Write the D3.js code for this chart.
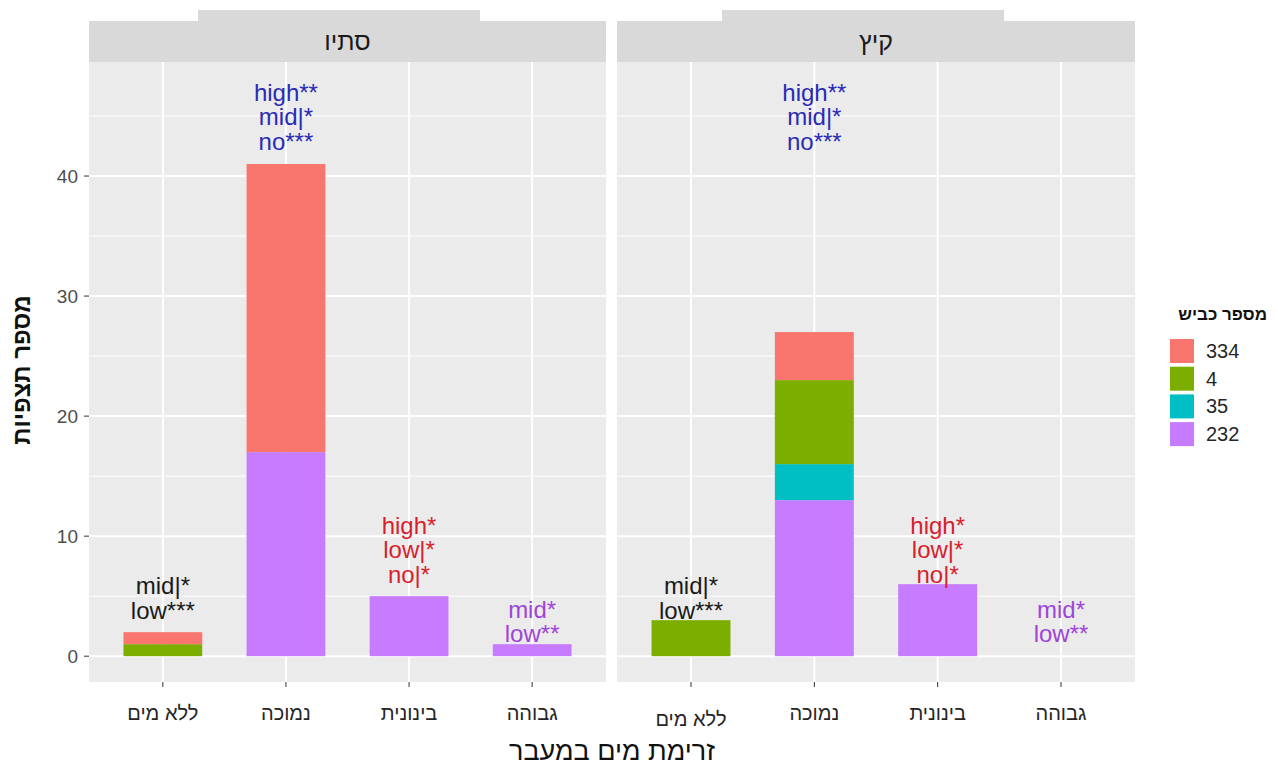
<!DOCTYPE html>
<html>
<head>
<meta charset="utf-8">
<script src="https://cdn.jsdelivr.net/npm/d3@7"></script>
<style>
  html, body { margin: 0; padding: 0; background: #ffffff; }
  svg { display: block; font-family: "Liberation Sans", Arial, "DejaVu Sans", sans-serif; }
</style>
</head>
<body>
<svg id="chart" width="1278" height="766"></svg>
<script>
// Water-flow categories along the x axis (shared by both facets)
const categories = ["ללא מים", "נמוכה", "בינונית", "גבוהה"];
// Facets: autumn, summer
const seasons = ["סתיו", "קיץ"];
// Road numbers (legend order); stacking goes from the last one upward
const roads = ["334", "4", "35", "232"];
const roadColors = ["#F8766D", "#7CAE00", "#00BFC4", "#C77CFF"];

// Observation counts per road, indexed by category
const autumn334 = [1, 24, 0, 0];
const autumn4   = [1, 0, 0, 0];
const autumn35  = [0, 0, 0, 0];
const autumn232 = [0, 17, 5, 1];

const summer334 = [0, 4, 0, 0];
const summer4   = [3, 7, 0, 0];
const summer35  = [0, 3, 0, 0];
const summer232 = [0, 13, 6, 0];

// Significance annotations per category (same in both facets)
const noteLines = [
  ["mid|*", "low***"],
  ["high**", "mid|*", "no***"],
  ["high*", "low|*", "no|*"],
  ["mid*", "low**"]
];
const noteColors = ["#1a1a1a", "#2a2ab8", "#d81e2c", "#a044d8"];
// Baseline of the lowest annotation line, in data units
const noteBase = [3.1, 42.2, 6.1, 1.15];

const yTicks = [0, 10, 20, 30, 40];

const seasonValues = [
  [autumn334, autumn4, autumn35, autumn232],
  [summer334, summer4, summer35, summer232]
];

const svg = d3.select("#chart");

const panelTop = 62, panelBottom = 682;
const panels = [
  { x0: 89, x1: 606, tab: [198, 480] },
  { x0: 617, x1: 1135, tab: [722, 1004] }
];

const y = d3.scaleLinear().domain([-2.15, 49.5]).range([panelBottom, panelTop]);

panels.forEach((p, si) => {
  const g = svg.append("g");
  // discrete positions with ggplot-like 0.6 expansion on each side
  const x = d3.scalePoint().domain(categories)
    .range([p.x0, p.x1]).padding(0.6);
  const step = x.step();
  const cx = c => x(c);
  const barW = step * 0.64;

  // strip with tab on top
  g.append("rect").attr("x", p.tab[0]).attr("y", 10).attr("width", p.tab[1] - p.tab[0]).attr("height", 12).attr("fill", "#D9D9D9");
  g.append("rect").attr("x", p.x0).attr("y", 21).attr("width", p.x1 - p.x0).attr("height", panelTop - 21).attr("fill", "#D9D9D9");
  g.append("text").attr("x", (p.x0 + p.x1) / 2).attr("y", 50)
    .attr("text-anchor", "middle").attr("font-size", 25).attr("fill", "#1a1a1a")
    .text(seasons[si]);

  // panel background
  g.append("rect").attr("x", p.x0).attr("y", panelTop).attr("width", p.x1 - p.x0).attr("height", panelBottom - panelTop).attr("fill", "#EBEBEB");

  // minor horizontal grid
  const minor = d3.range(5, 50, 10);
  g.selectAll(".minor").data(minor).join("line")
    .attr("x1", p.x0).attr("x2", p.x1)
    .attr("y1", d => y(d)).attr("y2", d => y(d))
    .attr("stroke", "#ffffff").attr("stroke-width", 1);
  // major grid
  g.selectAll(".major").data(yTicks).join("line")
    .attr("x1", p.x0).attr("x2", p.x1)
    .attr("y1", d => y(d)).attr("y2", d => y(d))
    .attr("stroke", "#ffffff").attr("stroke-width", 2);
  g.selectAll(".vgrid").data(categories).join("line")
    .attr("x1", d => cx(d)).attr("x2", d => cx(d))
    .attr("y1", panelTop).attr("y2", panelBottom)
    .attr("stroke", "#ffffff").attr("stroke-width", 2);

  // stacked bars
  const rows = categories.map((c, ci) => {
    const r = { cat: c };
    roads.forEach((rd, ri) => { r[rd] = seasonValues[si][ri][ci]; });
    return r;
  });
  const stack = d3.stack().keys(roads.slice().reverse());
  const layers = stack(rows);
  layers.forEach(layer => {
    const color = roadColors[roads.indexOf(layer.key)];
    g.selectAll(null).data(layer.filter(d => d[1] - d[0] > 0)).join("rect")
      .attr("x", d => cx(d.data.cat) - barW / 2)
      .attr("width", barW)
      .attr("y", d => y(d[1]))
      .attr("height", d => y(d[0]) - y(d[1]))
      .attr("fill", color);
  });

  // annotations
  categories.forEach((c, ci) => {
    const lines = noteLines[ci];
    const t = g.append("text")
      .attr("text-anchor", "middle")
      .attr("font-size", 24)
      .attr("fill", noteColors[ci]);
    lines.forEach((ln, li) => {
      t.append("tspan")
        .attr("x", cx(c))
        .attr("y", y(noteBase[ci]) - (lines.length - 1 - li) * 24.5)
        .text(ln);
    });
  });

  // x axis ticks and labels
  g.selectAll(".xt").data(categories).join("line")
    .attr("x1", d => cx(d)).attr("x2", d => cx(d))
    .attr("y1", panelBottom).attr("y2", panelBottom + 5)
    .attr("stroke", "#333333").attr("stroke-width", 1);
  g.selectAll(".xl").data(categories).join("text")
    .attr("x", d => cx(d))
    .attr("y", (d, i) => (si === 1 && i === 0) ? 726 : 720)
    .attr("text-anchor", "middle")
    .attr("font-size", 20)
    .attr("fill", "#262626")
    .text(d => d);

  // y axis on first panel
  if (si === 0) {
    g.selectAll(".yt").data(yTicks).join("line")
      .attr("x1", p.x0 - 5).attr("x2", p.x0)
      .attr("y1", d => y(d)).attr("y2", d => y(d))
      .attr("stroke", "#333333").attr("stroke-width", 1);
    g.selectAll(".yl").data(yTicks).join("text")
      .attr("x", p.x0 - 11)
      .attr("y", d => y(d) + 7)
      .attr("text-anchor", "end")
      .attr("font-size", 19)
      .attr("fill", "#4D4D4D")
      .text(d => d);
  }
});

// axis titles
svg.append("text")
  .attr("x", 612).attr("y", 760)
  .attr("text-anchor", "middle").attr("font-size", 27).attr("fill", "#111111")
  .text("זרימת מים במעבר");
svg.append("text")
  .attr("transform", "translate(30,370) rotate(-90)")
  .attr("text-anchor", "middle").attr("font-size", 24).attr("font-weight", 600).attr("fill", "#111111")
  .text("מספר תצפיות");

// legend
const lg = svg.append("g");
lg.append("text").attr("x", 1267).attr("y", 320)
  .attr("text-anchor", "end").attr("font-size", 17).attr("font-weight", "bold").attr("fill", "#111111")
  .text("מספר כביש");
roads.forEach((rd, i) => {
  const ky = 339 + i * 27.7;
  lg.append("rect").attr("x", 1170).attr("y", ky).attr("width", 24).attr("height", 24)
    .attr("fill", roadColors[i]);
  lg.append("text").attr("x", 1206).attr("y", ky + 19)
    .attr("font-size", 20).attr("fill", "#262626").text(rd);
});
</script>
</body>
</html>
